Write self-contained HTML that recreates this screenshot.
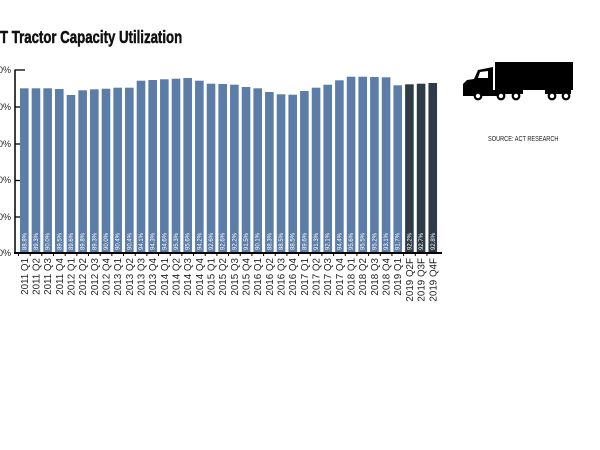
<!DOCTYPE html>
<html><head><meta charset="utf-8"><style>
html,body{margin:0;padding:0;background:#fff;}
svg{display:block;}
text{font-family:"Liberation Sans",sans-serif;}
</style></head><body>
<svg width="600" height="450" viewBox="0 0 600 450" xmlns="http://www.w3.org/2000/svg">
<rect width="600" height="450" fill="#fff"/>
<text x="0" y="43" font-size="18" font-weight="bold" fill="#111" stroke="#111" stroke-width="0.5" transform="scale(0.735,1)">T Tractor Capacity Utilization</text>

<g font-size="9" fill="#222" text-anchor="end">
<text x="11" y="73">100%</text>
<text x="11" y="110">90%</text>
<text x="11" y="147">80%</text>
<text x="11" y="183">70%</text>
<text x="11" y="220">60%</text>
<text x="11" y="256">50%</text>
</g>
<line x1="15" y1="69.5" x2="15" y2="254" stroke="#000" stroke-width="1.5"/>
<g stroke="#000" stroke-width="1.3">
<line x1="15" y1="70" x2="25" y2="70"/>
<line x1="15" y1="107" x2="21" y2="107"/>
<line x1="15" y1="144" x2="21" y2="144"/>
<line x1="15" y1="180.5" x2="21" y2="180.5"/>
<line x1="15" y1="217" x2="21" y2="217"/>
</g>

<g id="bars"></g>
<line x1="14" y1="253" x2="442" y2="253" stroke="#000" stroke-width="2"/>
<g id="ticks"></g>
<g id="labels"></g>

<!-- truck -->
<g fill="#000">
<rect x="495" y="62" width="78" height="28"/>
<path d="M463 96 L463 84 L467 80 L474 79 L478 70 L488 68 L493 67 L493 92 L500 92 L500 96 Z"/>
<rect x="493" y="90" width="30" height="4"/>
<rect x="545" y="90" width="26" height="4"/>
</g>
<path d="M478 78 L480 72 L488 71 L488 78 Z" fill="#fff"/>
<g fill="#fff" stroke="#000" stroke-width="2.2">
<circle cx="478" cy="96" r="3.3"/>
<circle cx="501" cy="96" r="3.3"/>
<circle cx="516" cy="96" r="3.3"/>
<circle cx="552" cy="96" r="3.3"/>
<circle cx="566" cy="96" r="3.3"/>
</g>
<text x="0" y="141" font-size="7" fill="#222" transform="translate(488,0) scale(0.8,1)">SOURCE: ACT RESEARCH</text>
</svg>
<script>
(function(){
var NS="http://www.w3.org/2000/svg";
var tops=[88.3,88.3,88.3,89,95,90.3,89.3,88.7,87.7,87.7,80.7,80,79.3,78.7,78,80.7,83.7,84,84.7,87,88.3,92,94.3,94.7,91,87.7,84.7,80.3,76.7,76.7,77,77.3,85.3,84.3,83.7,83];
var vals=["88.8","89.3","90.0","89.5","89.6","89.8","89.3","90.0","90.4","90.4","94.1","94.3","94.6","95.3","95.6","94.2","92.6","92.6","92.2","91.5","90.1","88.3","88.5","88.5","89.6","91.3","92.1","94.4","95.6","95.5","95.2","93.1","91.7","92.2","92.7","92.8"];
var cats=[];
for(var y=2011;y<=2019;y++){for(var q=1;q<=4;q++){var s=y+" Q"+q;if(y==2019&&q>1)s+="F";cats.push(s);}}
var bars=document.getElementById("bars"),ticks=document.getElementById("ticks"),labels=document.getElementById("labels");
var p=11.67,w=8.6;
for(var i=0;i<36;i++){
 var x=20+i*p;
 var r=document.createElementNS(NS,"rect");
 r.setAttribute("x",x.toFixed(2));r.setAttribute("y",tops[i]);
 r.setAttribute("width",w);r.setAttribute("height",(253-tops[i]).toFixed(2));
 r.setAttribute("fill",i>=33?"#2e3b47":"#5b7da8");
 bars.appendChild(r);
 var cx=x+w/2;
 var t=document.createElementNS(NS,"text");
 t.setAttribute("transform","translate("+(cx+2).toFixed(2)+",250) rotate(-90)");
 t.setAttribute("font-size","6");t.setAttribute("fill","#fff");
 t.textContent=vals[i]+"%";
 bars.appendChild(t);
 var l=document.createElementNS(NS,"line");
 var tx=x-1.5;
 l.setAttribute("x1",tx.toFixed(2));l.setAttribute("x2",tx.toFixed(2));
 l.setAttribute("y1","253");l.setAttribute("y2","256");
 l.setAttribute("stroke","#000");l.setAttribute("stroke-width","1");
 ticks.appendChild(l);
 var c=document.createElementNS(NS,"text");
 c.setAttribute("transform","translate("+(cx+3.5).toFixed(2)+",258) rotate(-90)");
 c.setAttribute("font-size","9.8");c.setAttribute("fill","#222");c.setAttribute("text-anchor","end");
 c.textContent=cats[i];
 labels.appendChild(c);
}
})();
</script>
</body></html>
